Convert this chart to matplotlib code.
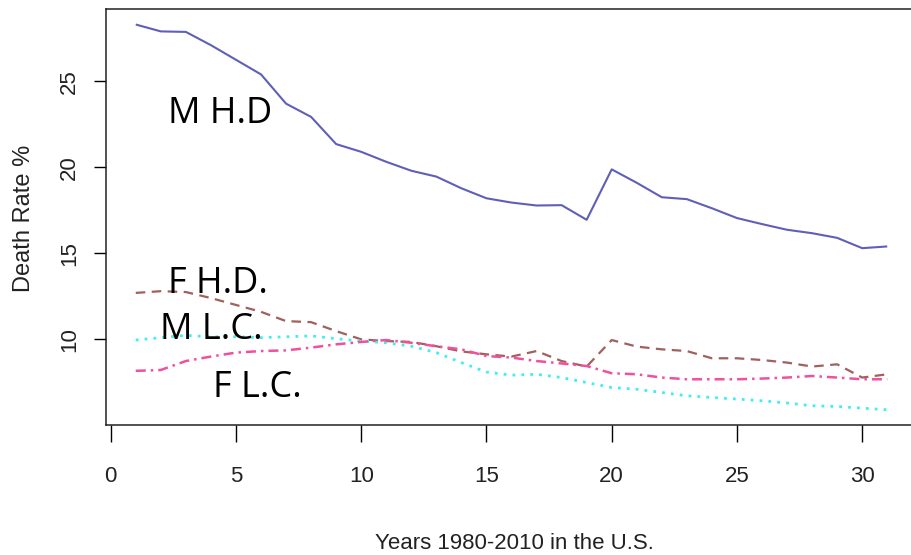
import numpy as np
import matplotlib
matplotlib.use("Agg")
import matplotlib.pyplot as plt

# years since 1979 (1 = 1980 ... 31 = 2010)
years = np.arange(1, 32)

# death rates (%) by sex and cause
m_hd = [28.3, 27.9, 27.87, 27.1, 26.25, 25.4, 23.7, 22.93, 21.35, 20.9,
        20.32, 19.8, 19.46, 18.78, 18.2, 17.95, 17.78, 17.8, 16.95, 19.88,
        19.1, 18.26, 18.15, 17.62, 17.05, 16.7, 16.37, 16.17, 15.9, 15.3, 15.4]
f_hd = [12.7, 12.8, 12.75, 12.4, 12.0, 11.6, 11.06, 11.0, 10.48, 10.0,
        9.9, 9.85, 9.6, 9.3, 9.13, 9.0, 9.32, 8.74, 8.42, 9.96,
        9.58, 9.42, 9.32, 8.9, 8.9, 8.8, 8.65, 8.42, 8.55, 7.78, 7.97]
m_lc = [9.96, 10.1, 10.23, 10.15, 10.15, 10.1, 10.15, 10.2, 10.04, 9.9,
        9.8, 9.6, 9.23, 8.65, 8.1, 7.92, 7.97, 7.78, 7.49, 7.2,
        7.1, 6.91, 6.72, 6.62, 6.53, 6.43, 6.3, 6.14, 6.1, 6.0, 5.91]
f_lc = [8.17, 8.22, 8.74, 9.0, 9.23, 9.32, 9.36, 9.52, 9.71, 9.85,
        9.96, 9.8, 9.6, 9.42, 9.03, 8.94, 8.74, 8.6, 8.45, 8.03,
        7.97, 7.78, 7.68, 7.68, 7.68, 7.72, 7.78, 7.87, 7.78, 7.68, 7.68]

xticks = [0, 5, 10, 15, 20, 25, 30]
yticks = [10, 15, 20, 25]

fig = plt.figure(figsize=(9.11, 5.55), dpi=100)
ax = fig.add_axes([0.11603, 0.234, 0.8909, 0.7496])

ax.plot(years, m_hd, color="#5f5fb8", lw=1.5, solid_capstyle="butt")
ax.plot(years, f_hd, color="#a0605c", lw=1.6, dashes=(4.3, 2.9))
ax.plot(years, m_lc, color="#40eef0", lw=2.0, dashes=(1.0, 2.2))
ax.plot(years, f_lc, color="#f0509e", lw=1.8, dashes=(4.0, 2.0, 1.0, 2.0))

# R-style 4% padding around the data
allv = np.concatenate([m_hd, f_hd, m_lc, f_lc])
ymin, ymax = allv.min(), allv.max()
pad = 0.04 * (ymax - ymin)
ax.set_ylim(ymin - pad, ymax + pad)
ax.set_xlim(1 - 0.04 * 30, 31 + 0.04 * 30)

ax.set_xticks(xticks)
ax.set_yticks(yticks)
ax.tick_params(axis="x", direction="out", length=12.5, width=1.0, pad=17,
               labelsize=16, labelcolor="#222222")
ax.tick_params(axis="y", direction="out", length=8.6, width=1.0, pad=10,
               labelsize=16, labelcolor="#222222")
for lab in ax.get_xticklabels():
    lab.set_family("Liberation Sans")
for lab in ax.get_yticklabels():
    lab.set_family("Liberation Sans")
    lab.set_rotation(90)
    lab.set_va("center")

for sp in ax.spines.values():
    sp.set_linewidth(1.1)
    sp.set_color("#222222")

ax.set_xlabel("Years 1980-2010 in the U.S.", fontsize=16,
              family="Liberation Sans", color="#222222", va="center")
ax.xaxis.set_label_coords(0.504, -0.285)
ax.set_ylabel("Death Rate %", fontsize=17, family="Liberation Sans",
              color="#222222", va="center")
ax.yaxis.set_label_coords(-0.1007, 0.498)

# series labels
lab_kw = dict(fontsize=26, family="Open Sans", ha="left", va="baseline")
ax.text(2.29, 22.58, "M H.D", **lab_kw)
ax.text(2.29, 12.71, "F H.D.", **lab_kw)
ax.text(1.97, 10.02, "M L.C.", **lab_kw)
ax.text(4.08, 6.65, "F L.C.", **lab_kw)

fig.savefig("out.png", dpi=100)
